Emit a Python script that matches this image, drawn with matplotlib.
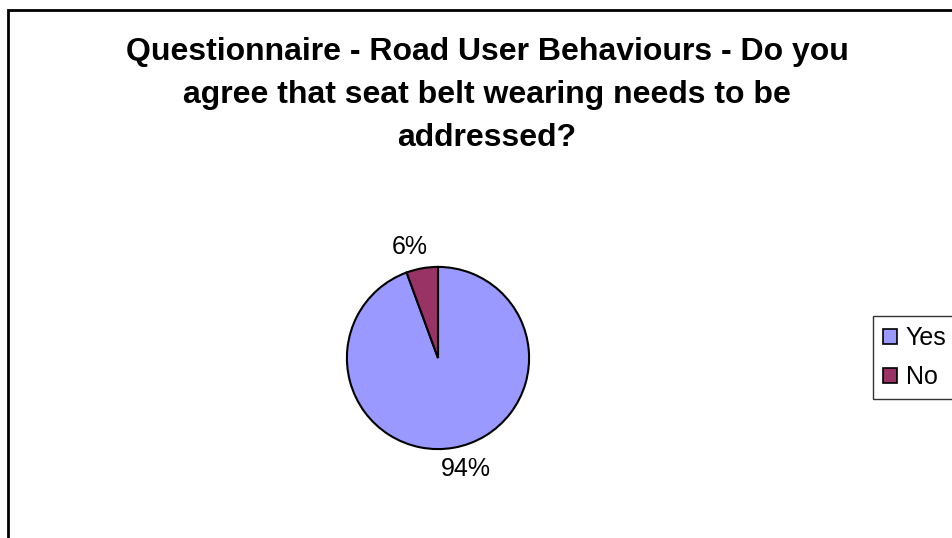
import matplotlib
matplotlib.use("Agg")
import matplotlib.pyplot as plt
import matplotlib.patches as mpatches
import numpy as np

plt.rcParams['font.family'] = ['Liberation Sans', 'DejaVu Sans']

categories = ["Yes", "No"]
values = [94.4, 5.6]
pct_labels = ["94%", "6%"]
colors = ["#9999FF", "#993366"]
title = "Questionnaire - Road User Behaviours - Do you\nagree that seat belt wearing needs to be\naddressed?"

W, H = 952, 538
fig = plt.figure(figsize=(W / 100, H / 100), dpi=100)
fig.patch.set_facecolor("white")

# outer frame
frame = mpatches.Rectangle((8 / W, -0.1), 1.2, 1.1 - 10 / H, transform=fig.transFigure,
                           fill=False, edgecolor="black", linewidth=2)
fig.add_artist(frame)

fig.text(487 / W, 1 - 37 / H, title, ha="center", va="top", multialignment="center",
         fontsize=23, fontweight="bold", linespacing=1.57)

cx, cy, r = 438, 358, 92
ax = fig.add_axes([(cx - r) / W, (H - cy - r) / H, 2 * r / W, 2 * r / H])
wedges, _ = ax.pie(values, colors=colors, startangle=90, counterclock=False,
                   wedgeprops=dict(edgecolor="black", linewidth=1.5))
ax.set_xlim(-1.01, 1.01)
ax.set_ylim(-1.01, 1.01)
ax.axis("off")

for w, lab in zip(wedges, pct_labels):
    ang = np.deg2rad((w.theta1 + w.theta2) / 2)
    d = 1.24
    x = d * np.cos(ang) + 0.09 * np.sign(np.cos(ang))
    y = d * np.sin(ang)
    ax.text(x, y, lab, ha="center", va="center", fontsize=18, clip_on=False)

handles = [mpatches.Patch(facecolor=c, edgecolor="black", linewidth=1.2, label=l)
           for c, l in zip(colors, categories)]
leg = fig.legend(handles=handles, loc="upper left", bbox_to_anchor=(873 / W, 1 - 316 / H),
                 bbox_transform=fig.transFigure, frameon=True, fancybox=False,
                 edgecolor="black", fontsize=18, handlelength=0.55, handleheight=0.55,
                 handletextpad=0.35, labelspacing=0.6, borderpad=0.4, borderaxespad=0)
leg.get_frame().set_linewidth(1.0)

fig.savefig("out.png", dpi=100)
